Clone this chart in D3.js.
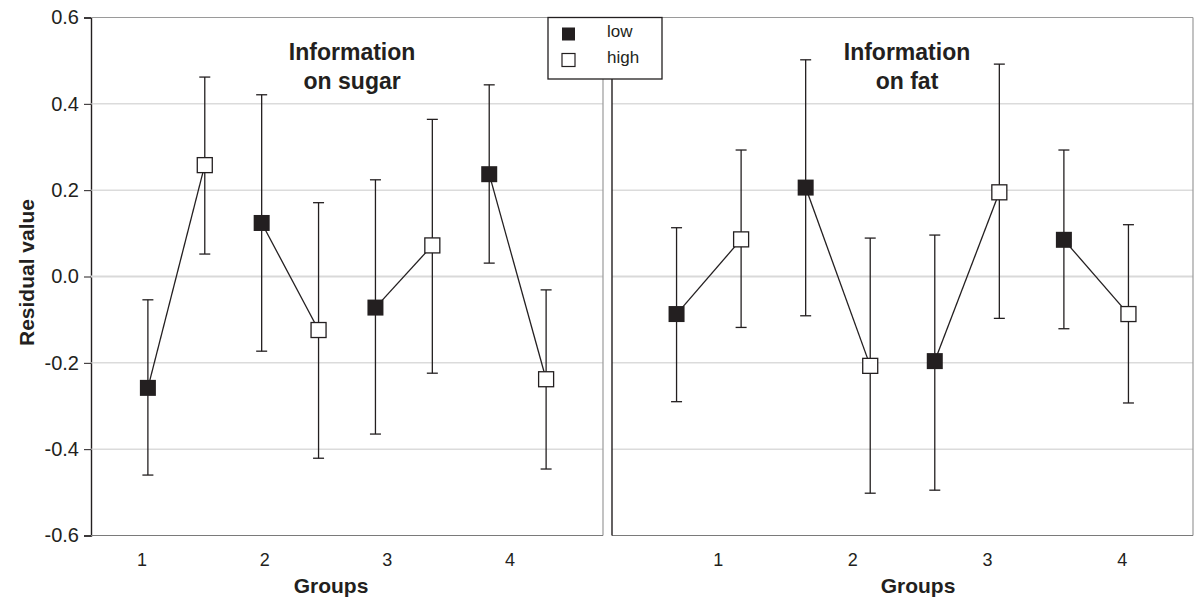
<!DOCTYPE html>
<html>
<head>
<meta charset="utf-8">
<script src="https://cdn.jsdelivr.net/npm/d3@7"></script>
<style>
  body{margin:0;background:#fff;}
  svg{display:block;font-family:"Liberation Sans",Arial,Helvetica,sans-serif;}
  text{fill:#231f20;}
</style>
</head>
<body>
<svg id="chart" width="1194" height="601"></svg>
<script>
// values
const groups = ["1","2","3","4"];
const levels = ["low","high"];
const yTicks = [0.6,0.4,0.2,0.0,-0.2,-0.4,-0.6];

const sugarMean  = [-0.258, 0.258, 0.124, -0.124, -0.072, 0.072, 0.237, -0.238];
const sugarUpper = [-0.054, 0.462, 0.421, 0.171, 0.224, 0.364, 0.444, -0.031];
const sugarLower = [-0.460, 0.052, -0.173, -0.421, -0.365, -0.224, 0.031, -0.446];

const fatMean  = [-0.087, 0.086, 0.206, -0.207, -0.196, 0.195, 0.085, -0.087];
const fatUpper = [0.113, 0.293, 0.502, 0.089, 0.096, 0.492, 0.293, 0.120];
const fatLower = [-0.290, -0.118, -0.091, -0.502, -0.495, -0.097, -0.121, -0.293];

const panels = [
  {title:["Information","on sugar"], mean:sugarMean, up:sugarUpper, lo:sugarLower,
   x0:91, x1:603, tickPad:0.587, tickAlign:0.354, titleAt:3.59, groupsX:331},
  {title:["Information","on fat"], mean:fatMean, up:fatUpper, lo:fatLower,
   x0:612, x1:1193, tickPad:0.657, tickAlign:0.60, titleAt:3.57, groupsX:918}
];

const svg = d3.select("#chart");
const yTop = 17.5, yBot = 535.5;
const y = d3.scaleLinear().domain([-0.6,0.6]).range([yBot,yTop]);
const ink = "#231f20";
const fmt = d3.format(".1f");

// y axis + title
const yAxis = svg.append("g").attr("transform","translate(91,0)")
  .call(d3.axisLeft(y).tickValues(yTicks).tickFormat(d=>fmt(d).replace("\u2212","-")).tickSize(7).tickPadding(5));
yAxis.select(".domain").attr("stroke",ink).attr("stroke-width",1.4);
yAxis.selectAll(".tick line").attr("stroke",ink);
yAxis.selectAll(".tick text").attr("font-size",20).attr("fill",ink);

svg.append("text")
  .attr("transform",`translate(27,${(yTop+yBot)/2 - 4}) rotate(-90)`)
  .attr("text-anchor","middle").attr("font-weight","bold").attr("font-size",21)
  .attr("dy","0.35em")
  .text("Residual value");

panels.forEach((p,pi)=>{
  const g = svg.append("g");
  // point slots: 8 positions (low/high per group)
  const x = d3.scaleLinear().domain([-1,8]).range([p.x0,p.x1]);
  const xl = d3.scalePoint().domain(groups).range([p.x0,p.x1])
    .padding(p.tickPad).align(p.tickAlign);

  // gridlines
  g.selectAll(".grid").data(yTicks.filter(v=>Math.abs(v)<0.6)).enter().append("line")
    .attr("x1",p.x0).attr("x2",p.x1)
    .attr("y1",d=>y(d)).attr("y2",d=>y(d))
    .attr("stroke",d=>d===0?"#d9d9d9":"#c9c9c9")
    .attr("stroke-width",d=>d===0?2:1);

  // frame
  g.append("line").attr("x1",p.x0).attr("x2",p.x1).attr("y1",yTop).attr("y2",yTop)
    .attr("stroke","#9a9a9a").attr("stroke-width",1.2);
  g.append("line").attr("x1",p.x1).attr("x2",p.x1).attr("y1",yTop).attr("y2",yBot)
    .attr("stroke","#9a9a9a").attr("stroke-width",1.2);
  g.append("line").attr("x1",p.x0).attr("x2",p.x1).attr("y1",yBot).attr("y2",yBot)
    .attr("stroke","#7a7a7a").attr("stroke-width",1.2);
  if(pi===1){
    g.append("line").attr("x1",p.x0).attr("x2",p.x0).attr("y1",yTop).attr("y2",yBot)
      .attr("stroke",ink).attr("stroke-width",1.4);
  }

  // x tick labels
  g.selectAll(".xt").data(groups).enter().append("text")
    .attr("x",d=>xl(d)).attr("y",yBot+30)
    .attr("text-anchor","middle").attr("font-size",18)
    .text(d=>d);
  g.append("text").attr("x",p.groupsX).attr("y",yBot+57)
    .attr("text-anchor","middle").attr("font-weight","bold").attr("font-size",21)
    .text("Groups");

  // panel title
  p.title.forEach((t,k)=>{
    g.append("text").attr("x",x(p.titleAt)).attr("y",60+k*29)
      .attr("text-anchor","middle").attr("font-weight","bold").attr("font-size",23)
      .text(t);
  });

  const pts = p.mean.map((m,i)=>({i, m, up:p.up[i], lo:p.lo[i], level:levels[i%2]}));

  // connecting lines within each group
  groups.forEach((gr,k)=>{
    const a = pts[2*k], b = pts[2*k+1];
    g.append("line").attr("x1",x(a.i)).attr("y1",y(a.m)).attr("x2",x(b.i)).attr("y2",y(b.m))
      .attr("stroke",ink).attr("stroke-width",1.3);
  });

  // error bars
  const eb = g.selectAll(".eb").data(pts).enter().append("g");
  eb.append("line").attr("x1",d=>x(d.i)).attr("x2",d=>x(d.i))
    .attr("y1",d=>y(d.up)).attr("y2",d=>y(d.lo))
    .attr("stroke",ink).attr("stroke-width",1.3);
  eb.append("line").attr("x1",d=>x(d.i)-5.5).attr("x2",d=>x(d.i)+5.5)
    .attr("y1",d=>y(d.up)).attr("y2",d=>y(d.up))
    .attr("stroke",ink).attr("stroke-width",1.3);
  eb.append("line").attr("x1",d=>x(d.i)-5.5).attr("x2",d=>x(d.i)+5.5)
    .attr("y1",d=>y(d.lo)).attr("y2",d=>y(d.lo))
    .attr("stroke",ink).attr("stroke-width",1.3);

  // markers
  g.selectAll(".mk").data(pts).enter().append("rect")
    .attr("x",d=>x(d.i)-(d.level==="low"?8:7.5)).attr("y",d=>y(d.m)-(d.level==="low"?8:7.5))
    .attr("width",d=>d.level==="low"?16:15).attr("height",d=>d.level==="low"?16:15)
    .attr("fill",d=>d.level==="low"?ink:"#fff")
    .attr("stroke",ink).attr("stroke-width",d=>d.level==="low"?0:1.3);
});

// legend
const lg = svg.append("g");
lg.append("rect").attr("x",548).attr("y",17.5).attr("width",114).attr("height",61.5)
  .attr("fill","#fff").attr("stroke",ink).attr("stroke-width",1.3);
levels.forEach((l,k)=>{
  const ly = 34 + k*26;
  lg.append("rect").attr("x",562).attr("y",ly-6.5).attr("width",13).attr("height",13)
    .attr("fill",l==="low"?ink:"#fff").attr("stroke",ink).attr("stroke-width",l==="low"?0:1.2);
  lg.append("text").attr("x",607).attr("y",ly+3).attr("font-size",17).text(l);
});
</script>
</body>
</html>
